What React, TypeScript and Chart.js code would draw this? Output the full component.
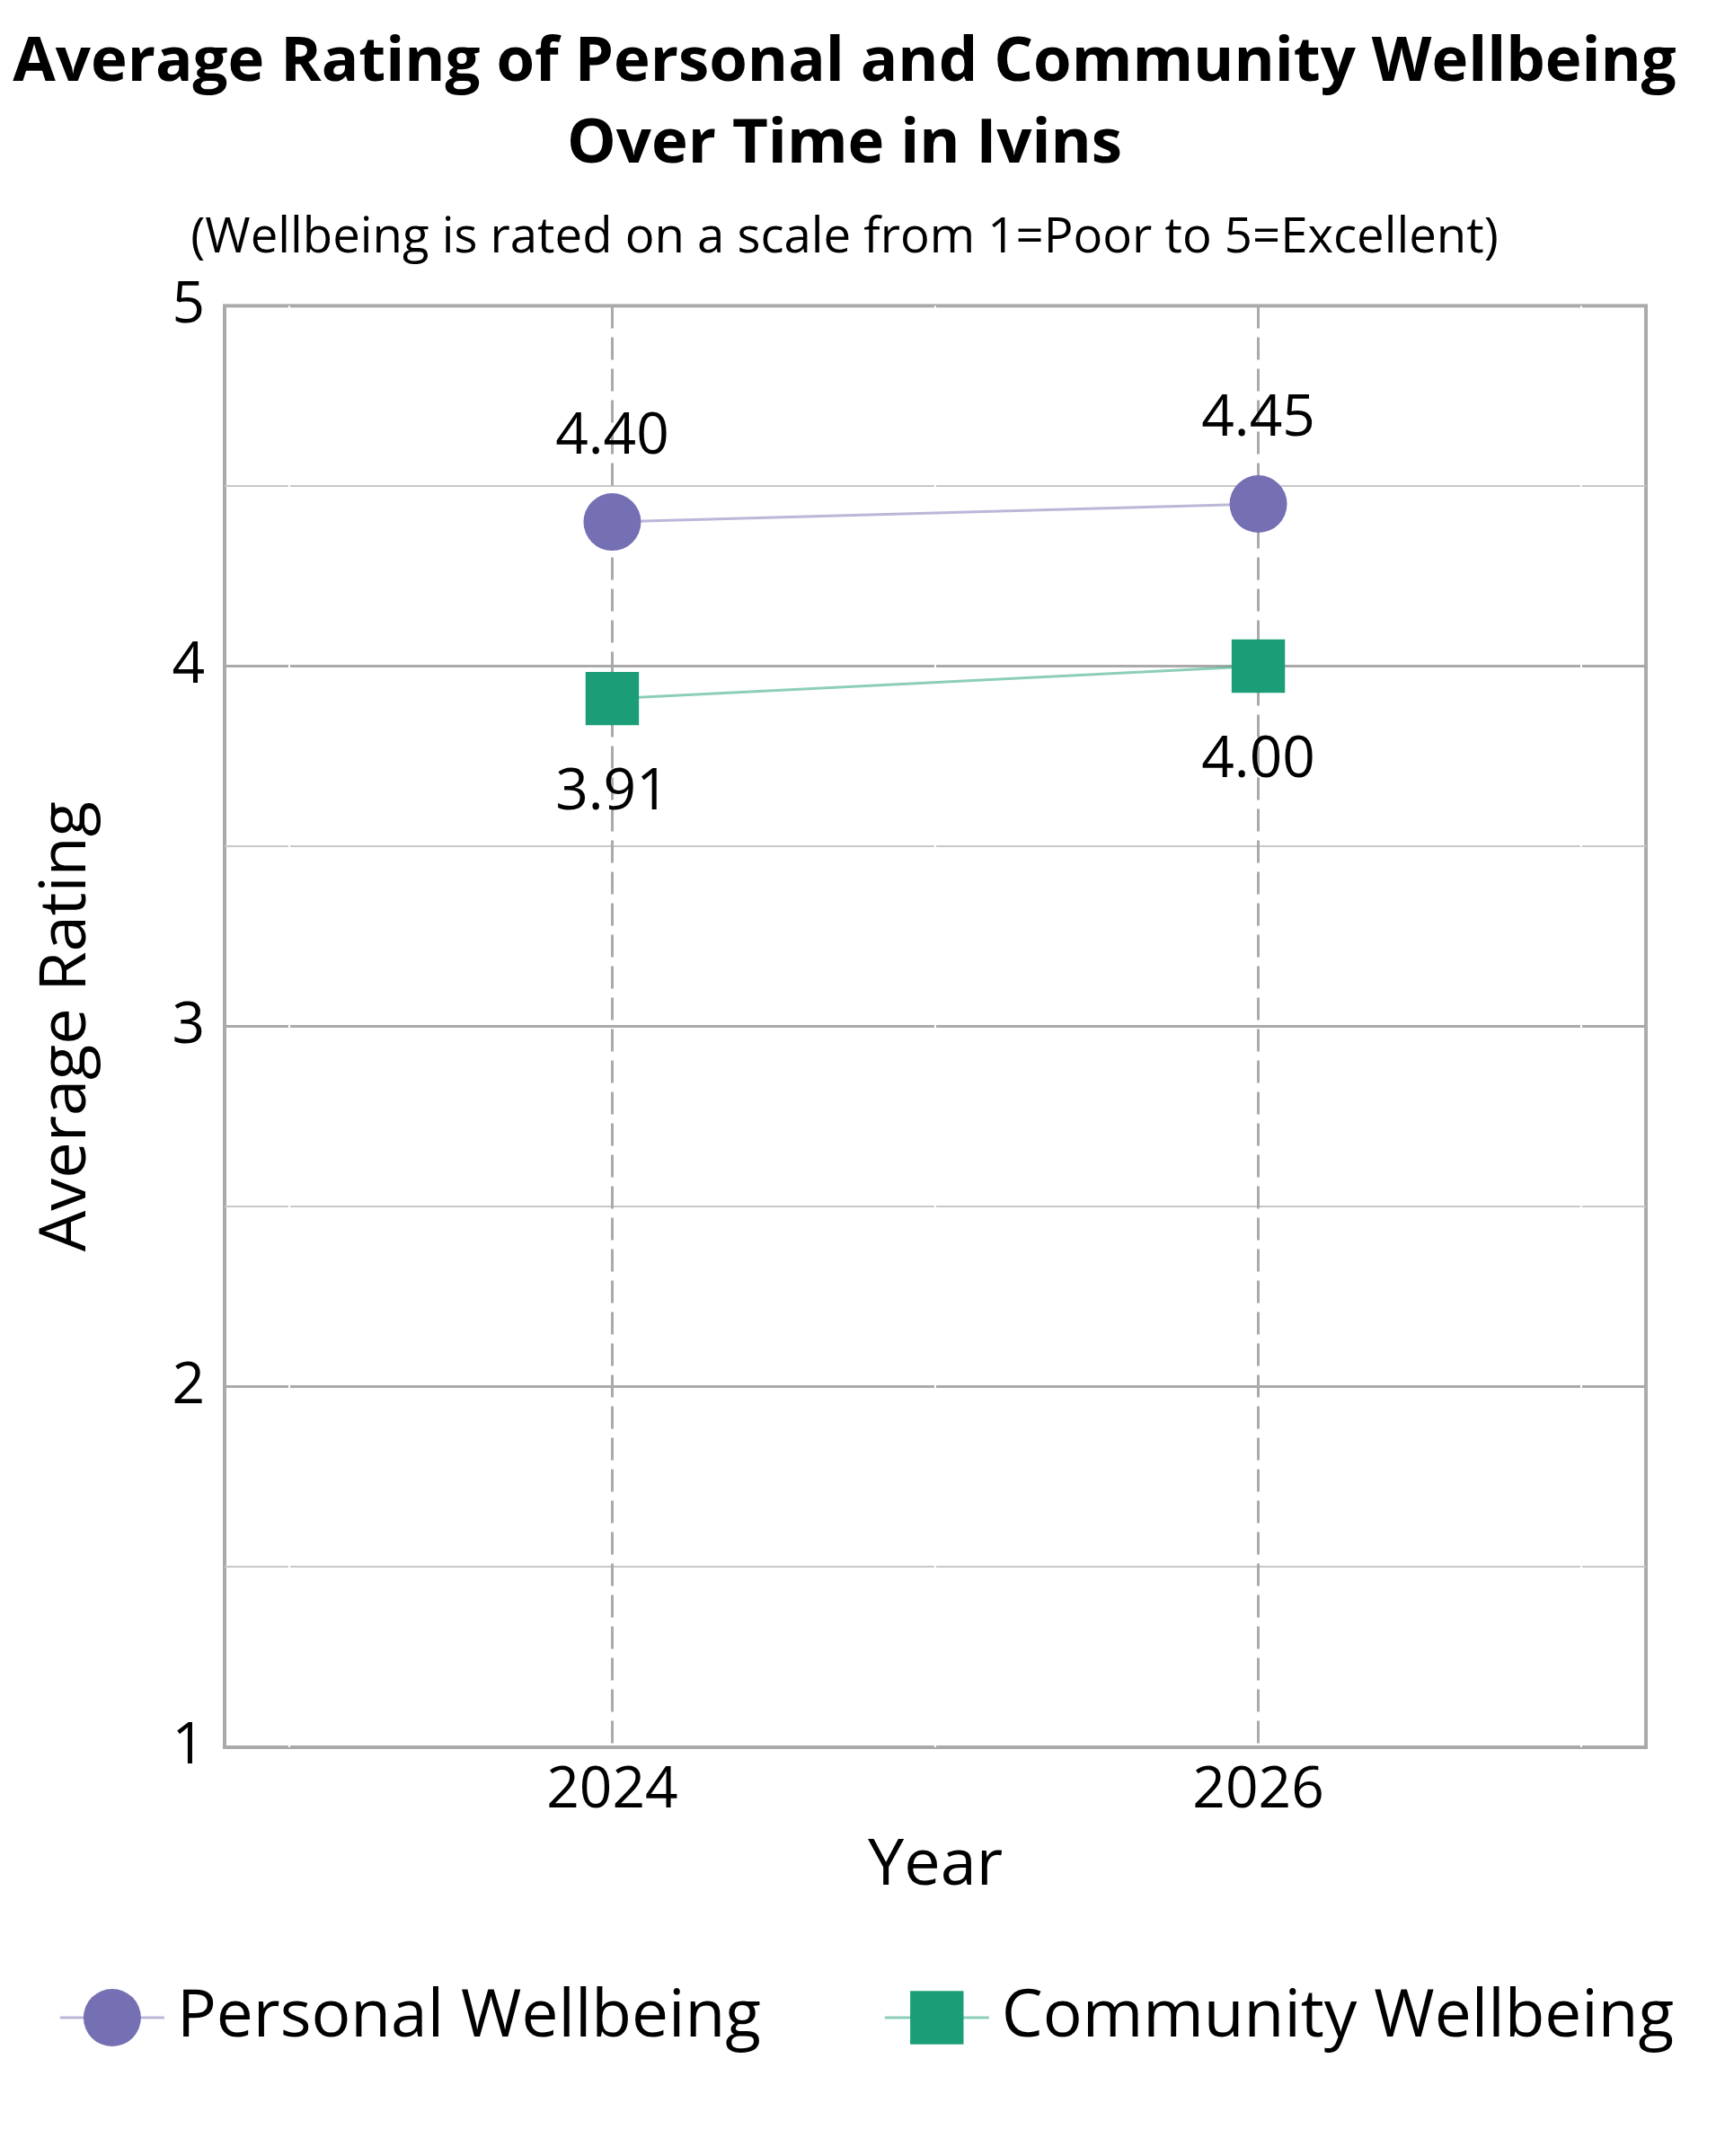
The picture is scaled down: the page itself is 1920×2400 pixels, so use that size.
import React, { useEffect, useRef } from 'react';
import { Chart, registerables } from 'chart.js';

Chart.register(...registerables);

const FONT = "'Open Sans', 'Noto Sans', sans-serif";

const titleLines = ['Average Rating of Personal and Community Wellbeing', 'Over Time in Ivins'];
const subtitleText = '(Wellbeing is rated on a scale from 1=Poor to 5=Excellent)';
const xAxisTitle = 'Year';
const yAxisTitle = 'Average Rating';

const years = [2024, 2026];
const yearTicks = [2023, 2024, 2025, 2026, 2027];
const ratingTicks = [1, 1.5, 2, 2.5, 3, 3.5, 4, 4.5, 5];

const seriesNames = ['Personal Wellbeing', 'Community Wellbeing'];
const personal = [4.4, 4.45];
const community = [3.91, 4.0];

const PURPLE = '#7570b3';
const PURPLE_LINE = 'rgba(117,112,179,0.5)';
const GREEN = '#1b9e77';
const GREEN_LINE = 'rgba(27,158,119,0.5)';

const framePlugin = {
  id: 'frame',
  beforeDraw(chart: any) {
    const { ctx, chartArea } = chart;
    ctx.save();
    ctx.strokeStyle = '#aaaaaa';
    ctx.lineWidth = 4;
    ctx.strokeRect(chartArea.left, chartArea.top, chartArea.right - chartArea.left, chartArea.bottom - chartArea.top);
    ctx.restore();
  },
};

const valueLabelPlugin = {
  id: 'valueLabels',
  afterDatasetsDraw(chart: any) {
    const ctx = chart.ctx;
    ctx.save();
    ctx.font = `64px ${FONT}`;
    ctx.fillStyle = '#000';
    ctx.textAlign = 'center';
    ctx.textBaseline = 'middle';
    chart.data.datasets.forEach((ds: any, di: number) => {
      const meta = chart.getDatasetMeta(di);
      const above = di === 0;
      meta.data.forEach((el: any, i: number) => {
        const v = ds.data[i].y as number;
        ctx.fillText(v.toFixed(2), el.x, el.y + (above ? -94 : 105));
      });
    });
    ctx.restore();
  },
};

const legendPlugin = {
  id: 'lineMarkerLegend',
  afterDraw(chart: any) {
    const ctx = chart.ctx;
    const lineLen = 116;
    const gapText = 14;
    const itemGap = 138;
    ctx.save();
    ctx.font = `73px ${FONT}`;
    const items = chart.data.datasets.map((ds: any) => ({ ds, w: ctx.measureText(ds.label).width }));
    const total =
      items.reduce((s: number, it: any) => s + lineLen + gapText + it.w, 0) + itemGap * (items.length - 1);
    let x = chart.width / 2 + 5 - total / 2;
    const y = chart.height - 154;
    items.forEach((it: any) => {
      const ds = it.ds;
      ctx.strokeStyle = ds.borderColor;
      ctx.lineWidth = 3;
      ctx.beginPath();
      ctx.moveTo(x, y);
      ctx.lineTo(x + lineLen, y);
      ctx.stroke();
      ctx.fillStyle = ds.pointBackgroundColor;
      const cx = x + lineLen / 2;
      if (ds.pointStyle === 'rect') {
        const s = ds.pointRadius * Math.SQRT1_2;
        ctx.fillRect(cx - s, y - s, 2 * s, 2 * s);
      } else {
        ctx.beginPath();
        ctx.arc(cx, y, ds.pointRadius, 0, Math.PI * 2);
        ctx.fill();
      }
      ctx.fillStyle = '#000';
      ctx.textAlign = 'left';
      ctx.textBaseline = 'middle';
      ctx.fillText(ds.label, x + lineLen + gapText, y);
      x += lineLen + gapText + it.w + itemGap;
    });
    ctx.restore();
  },
};

function fitFontSize(text: string, weight: string, targetWidth: number): number {
  const c = document.createElement('canvas').getContext('2d');
  if (!c) return 70;
  c.font = `${weight} 100px ${FONT}`;
  const w = c.measureText(text).width;
  return w > 0 ? (100 * targetWidth) / w : 70;
}

export default function App() {
  const ref = useRef<HTMLCanvasElement>(null);

  useEffect(() => {
    if (!ref.current) return;
    Chart.defaults.font.family = FONT;
    Chart.defaults.color = '#000';

    const titleSize = fitFontSize(titleLines[0], 'bold', 1852);

    const chart = new Chart(ref.current, {
      type: 'line',
      data: {
        datasets: [
          {
            label: seriesNames[0],
            data: years.map((x, i) => ({ x, y: personal[i] })),
            borderColor: PURPLE_LINE,
            borderWidth: 3,
            pointStyle: 'circle',
            pointRadius: 32,
            pointBackgroundColor: PURPLE,
            pointBorderWidth: 0,
            pointBorderColor: PURPLE,
            fill: false,
          },
          {
            label: seriesNames[1],
            data: years.map((x, i) => ({ x, y: community[i] })),
            borderColor: GREEN_LINE,
            borderWidth: 3,
            pointStyle: 'rect',
            pointRadius: 42,
            pointBackgroundColor: GREEN,
            pointBorderWidth: 0,
            pointBorderColor: GREEN,
            fill: false,
          },
        ],
      },
      options: {
        responsive: false,
        animation: false,
        events: [],
        layout: { padding: { top: 0, right: 40, bottom: 287, left: 0 } },
        plugins: {
          legend: { display: false },
          tooltip: { enabled: false },
          title: {
            display: true,
            text: titleLines,
            color: '#000',
            font: { family: FONT, size: titleSize, weight: 'bold', lineHeight: 91 / titleSize },
            padding: { top: 25, bottom: 0 },
          },
          subtitle: {
            display: true,
            text: subtitleText,
            color: '#000',
            font: { family: FONT, size: 54.5, weight: 'normal', lineHeight: 1.2 },
            padding: { top: 26, bottom: 42 },
          },
        },
        scales: {
          x: {
            type: 'linear',
            min: 2022.8,
            max: 2027.2,
            afterBuildTicks: (s: any) => {
              s.ticks = yearTicks.map((v) => ({ value: v }));
            },
            ticks: {
              autoSkip: false,
              maxRotation: 0,
              padding: 17,
              color: '#000',
              font: { size: 64, lineHeight: 1 },
              callback: (v: any) => (years.includes(Number(v)) ? String(v) : ''),
            },
            grid: {
              z: -1,
              drawTicks: false,
              color: (c: any) => (years.includes(c.tick?.value) ? '#aaaaaa' : '#ffffff'),
              lineWidth: (c: any) => (years.includes(c.tick?.value) ? 3 : 2),
            },
            border: {
              display: false,
              dash: (c: any) => (years.includes(c.tick?.value) ? [25, 10] : []),
            },
            title: {
              display: true,
              text: xAxisTitle,
              color: '#000',
              font: { size: 72, lineHeight: 1 },
              padding: { top: -2, bottom: 0 },
            },
          },
          y: {
            type: 'linear',
            min: 1,
            max: 5,
            afterBuildTicks: (s: any) => {
              s.ticks = ratingTicks.map((v) => ({ value: v }));
            },
            afterFit: (s: any) => {
              s.width = 250;
            },
            ticks: {
              autoSkip: false,
              padding: 22,
              color: '#000',
              font: { size: 64 },
              callback: (v: any) => (Number.isInteger(Number(v)) ? String(v) : ''),
            },
            grid: {
              z: -2,
              drawTicks: false,
              color: (c: any) => (Number.isInteger(c.tick?.value) ? '#aaaaaa' : '#c8c8c8'),
              lineWidth: (c: any) => (Number.isInteger(c.tick?.value) ? 3 : 2),
            },
            border: { display: false },
            title: {
              display: true,
              text: yAxisTitle,
              color: '#000',
              font: { size: 72, lineHeight: 1.2 },
              padding: { top: 31, bottom: 0 },
            },
          },
          yRightSpace: {
            type: 'linear',
            position: 'right',
            display: true,
            grid: { display: false, drawOnChartArea: false },
            ticks: { display: false },
            border: { display: false },
            afterFit: (s: any) => {
              s.width = 48;
            },
          },
        },
      } as any,
      plugins: [framePlugin, valueLabelPlugin, legendPlugin],
    });

    return () => chart.destroy();
  }, []);

  return (
    <div style={{ position: 'absolute', left: 0, top: 0, width: 1920, height: 2400, background: '#fff' }}>
      <canvas ref={ref} width={1920} height={2400} style={{ display: 'block', width: 1920, height: 2400 }} />
    </div>
  );
}
